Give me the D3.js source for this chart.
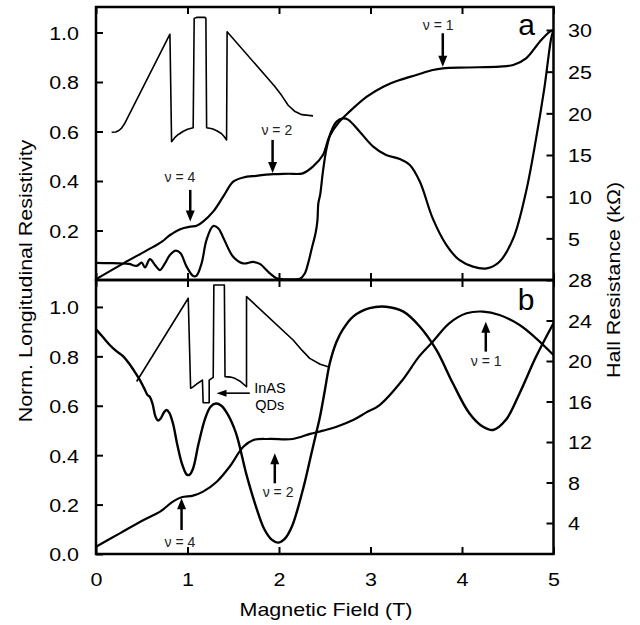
<!DOCTYPE html>
<html>
<head>
<meta charset="utf-8">
<script src="https://cdn.jsdelivr.net/npm/d3@7"></script>
<style>
body{margin:0;background:#fff;}
svg{display:block;}
</style>
</head>
<body>
<svg id="chart" width="640" height="625"></svg>
<script>
// ticks
var fieldTicks=[0,1,2,3,4,5];
var rhoTicksA=[0.2,0.4,0.6,0.8,1.0];
var rhoTicksB=[0.0,0.2,0.4,0.6,0.8,1.0];
var hallTicksA=[5,10,15,20,25,30];
var hallTicksB=[4,8,12,16,20,24,28];

// panel a : [B (T), normalized rho_xx]
var rhoA=[[0,0.069],[0.15,0.068],[0.26,0.067],[0.36,0.065],[0.444,0.057],[0.499,0.070],[0.535,0.051],[0.59,0.084],
  [0.644,0.061],[0.699,0.040],[0.753,0.067],[0.808,0.101],[0.873,0.119],[0.924,0.108],[0.99,0.054],[1.063,0.016],
  [1.099,0.018],[1.154,0.067],[1.208,0.162],[1.281,0.218],[1.336,0.209],[1.39,0.172],[1.499,0.094],[1.608,0.067],
  [1.717,0.073],[1.79,0.065],[1.90,0.027],[1.973,0.007],[2.05,0.003],[2.15,0.003],[2.23,0.005],[2.28,0.025],
  [2.32,0.07],[2.36,0.13],[2.40,0.19],[2.42,0.24],[2.43,0.31],[2.45,0.345],[2.48,0.438],[2.52,0.532],[2.57,0.60],
  [2.63,0.64],[2.70,0.653],[2.755,0.648],[2.88,0.60],[3.03,0.539],[3.17,0.505],[3.32,0.489],[3.43,0.465],
  [3.54,0.397],[3.68,0.249],[3.83,0.141],[3.97,0.081],[4.12,0.054],[4.27,0.047],[4.41,0.074],[4.56,0.168],
  [4.70,0.357],[4.81,0.572],[4.90,0.775],[4.975,0.977],[5.0,1.01]];
// panel a : [B (T), Hall resistance (kOhm)]
var hallA=[[0,0.1],[0.30,2.0],[0.63,4.0],[0.72,4.6],[0.81,5.4],[0.92,6.1],[1.03,6.4],[1.10,6.5],[1.17,7.0],
  [1.28,8.2],[1.39,10.0],[1.50,11.8],[1.61,12.3],[1.75,12.5],[1.94,12.7],[2.10,12.75],[2.26,12.8],[2.37,13.6],
  [2.48,15.0],[2.55,17.2],[2.66,19.0],[2.77,20.2],[2.96,22.0],[3.14,23.2],[3.32,24.0],[3.50,24.6],[3.68,25.2],
  [3.79,25.4],[4.05,25.5],[4.41,25.6],[4.56,25.8],[4.70,26.6],[4.85,28.6],[4.96,29.8],[5.0,30.0]];
// panel a inset (band profile), drawn on rho axis
var bandA=[[0.171,0.597],[0.215,0.598],[0.25,0.604],[0.28,0.614],[0.31,0.630],[0.808,0.993],[0.826,0.559],
  [0.86,0.575],[0.90,0.588],[0.95,0.600],[1.00,0.609],[1.062,0.615],[1.073,1.057],[1.099,1.061],[1.19,1.061],
  [1.201,1.057],[1.209,0.615],[1.27,0.611],[1.32,0.603],[1.37,0.592],[1.40,0.580],[1.427,0.566],[1.433,1.003],
  [1.95,0.784],[2.03,0.745],[2.10,0.706],[2.17,0.682],[2.25,0.668],[2.372,0.663]];

// panel b
var rhoB=[[0.00,0.910],[0.07,0.880],[0.15,0.846],[0.22,0.822],[0.30,0.799],[0.36,0.772],[0.41,0.745],[0.48,0.704],
  [0.535,0.664],[0.56,0.645],[0.59,0.635],[0.62,0.605],[0.65,0.556],[0.68,0.540],[0.71,0.550],[0.74,0.572],
  [0.77,0.583],[0.80,0.572],[0.84,0.530],[0.89,0.440],[0.94,0.365],[0.99,0.322],[1.02,0.320],[1.06,0.345],
  [1.12,0.445],[1.19,0.545],[1.25,0.595],[1.31,0.609],[1.37,0.600],[1.44,0.565],[1.53,0.489],[1.645,0.32],
  [1.75,0.19],[1.84,0.10],[1.92,0.058],[1.99,0.046],[2.06,0.060],[2.14,0.11],[2.26,0.259],[2.35,0.40],
  [2.41,0.495],[2.445,0.55],[2.50,0.66],[2.555,0.772],[2.63,0.86],[2.70,0.91],[2.81,0.961],[2.99,0.995],
  [3.17,1.001],[3.36,0.981],[3.54,0.920],[3.72,0.826],[3.90,0.691],[4.08,0.570],[4.23,0.515],[4.34,0.502],
  [4.48,0.543],[4.63,0.651],[4.81,0.799],[5.00,0.934]];
var hallB=[[0.0,1.66],[0.26,2.98],[0.52,4.30],[0.70,5.12],[0.84,6.11],[0.935,6.54],[1.06,6.70],[1.17,7.10],
  [1.32,8.08],[1.46,9.56],[1.61,11.53],[1.72,12.20],[1.90,12.30],[2.15,12.30],[2.34,12.80],[2.48,13.12],
  [2.63,13.51],[2.81,14.17],[2.95,14.90],[3.10,15.65],[3.35,18.12],[3.53,20.43],[3.68,21.9],[3.86,23.72],
  [4.05,24.71],[4.23,24.88],[4.41,24.54],[4.63,23.56],[4.81,22.24],[5.0,20.59]];
var bandB=[[0.444,0.698],[1.008,1.035],[1.034,0.671],[1.06,0.676],[1.10,0.688],[1.163,0.704],[1.171,0.612],
  [1.237,0.612],[1.237,0.704],[1.281,0.715],[1.288,1.089],[1.403,1.089],[1.41,0.718],[1.47,0.716],[1.517,0.711],
  [1.58,0.698],[1.645,0.677],[1.645,1.042],[2.154,0.866],[2.25,0.825],[2.336,0.792],[2.45,0.768],[2.555,0.756]];

// filling-factor arrows: field, arrow tail, arrow tip, label field, label baseline (rho units)
var arrowsA=[{b:1.03,from:0.364,to:0.236,text:"ν = 4",lb:0.917,lv:0.396},
  {b:1.93,from:0.566,to:0.432,text:"ν = 2",lb:1.976,lv:0.586},
  {b:3.79,from:0.997,to:0.862,text:"ν = 1",lb:3.74,lv:1.01}];
var arrowsB=[{b:0.935,from:0.097,to:0.226,text:"ν = 4",lb:0.917,lv:0.028},
  {b:1.954,from:0.286,to:0.408,text:"ν = 2",lb:1.99,lv:0.231},
  {b:4.26,from:0.819,to:0.94,text:"ν = 1",lb:4.265,lv:0.761}];

var pLeft=96,pRight=553.5,pTop=7,pMid=280,pBottom=554;
var font='"Liberation Sans", Arial, sans-serif';
var stretch=1.13;

var svg=d3.select("#chart");
var x=d3.scaleLinear().domain([0,5]).range([pLeft,pRight]);
var yA=d3.scaleLinear().domain([0,1.103]).range([pMid,pTop]);
var yAR=d3.scaleLinear().domain([0,32.76]).range([pMid,pTop]);
var yB=d3.scaleLinear().domain([0,1.109]).range([pBottom,pMid]);
var yBR=d3.scaleLinear().domain([0.94,28]).range([pBottom,pMid]);

function styleAxis(g){
	g.attr("font-family",font).attr("font-size",19);
	g.select(".domain").remove();
	g.selectAll(".tick line").attr("stroke","#000").attr("stroke-width",2);
}

// x ticks on all horizontal edges
svg.append("g").attr("transform","translate(0,"+pTop+")")
	.call(d3.axisTop(x).tickValues(fieldTicks).tickSize(-7).tickFormat("")).call(styleAxis);
svg.append("g").attr("transform","translate(0,"+pMid+")")
	.call(d3.axisBottom(x).tickValues(fieldTicks).tickSize(-7).tickFormat("")).call(styleAxis);
svg.append("g").attr("transform","translate(0,"+pMid+")")
	.call(d3.axisTop(x).tickValues(fieldTicks).tickSize(-7).tickFormat("")).call(styleAxis);
var xg=svg.append("g").attr("transform","translate(0,"+pBottom+")")
	.call(d3.axisBottom(x).tickValues(fieldTicks).tickSize(-7).tickFormat(d3.format("d"))).call(styleAxis);
xg.selectAll(".tick text").attr("y",null).attr("dy",null)
	.attr("transform","translate(0,32) scale("+stretch+",1)");

function leftAxis(scale,ticks){
	var g=svg.append("g").attr("transform","translate("+pLeft+",0)")
		.call(d3.axisLeft(scale).tickValues(ticks).tickSize(-7).tickFormat(d3.format(".1f"))).call(styleAxis);
	g.selectAll(".tick text").attr("x",null).attr("dy","0.36em")
		.attr("transform","translate(-17,0) scale("+stretch+",1)");
}
function rightAxis(scale,ticks){
	var g=svg.append("g").attr("transform","translate("+pRight+",0)")
		.call(d3.axisRight(scale).tickValues(ticks).tickSize(-7).tickFormat(d3.format("d"))).call(styleAxis);
	g.selectAll(".tick text").attr("x",null).attr("dy","0.36em")
		.attr("transform","translate(14.5,0) scale("+stretch+",1)");
}
leftAxis(yA,rhoTicksA);
leftAxis(yB,rhoTicksB);
rightAxis(yAR,hallTicksA);
rightAxis(yBR,hallTicksB);

// frames
svg.append("rect").attr("x",pLeft).attr("y",pTop).attr("width",pRight-pLeft).attr("height",pMid-pTop)
	.attr("fill","none").attr("stroke","#000").attr("stroke-width",2.5);
svg.append("rect").attr("x",pLeft).attr("y",pMid).attr("width",pRight-pLeft).attr("height",pBottom-pMid)
	.attr("fill","none").attr("stroke","#000").attr("stroke-width",2.5);

svg.append("clipPath").attr("id","clipA").append("rect")
	.attr("x",pLeft).attr("y",pTop).attr("width",pRight-pLeft).attr("height",pMid-pTop);
svg.append("clipPath").attr("id","clipB").append("rect")
	.attr("x",pLeft).attr("y",pMid).attr("width",pRight-pLeft).attr("height",pBottom-pMid);

function curve(data,ys,clip,w,smooth){
	var line=d3.line().x(function(d){return x(d[0]);}).y(function(d){return ys(d[1]);})
		.curve(smooth?d3.curveCatmullRom.alpha(0.5):d3.curveLinear);
	svg.append("path").datum(data).attr("d",line).attr("fill","none")
		.attr("stroke","#000").attr("stroke-width",w).attr("stroke-linejoin","round")
		.attr("clip-path","url(#"+clip+")");
}
curve(bandA,yA,"clipA",1.6,false);
curve(rhoA,yA,"clipA",2.2,true);
curve(hallA,yAR,"clipA",2.2,true);
curve(bandB,yB,"clipB",1.6,false);
curve(rhoB,yB,"clipB",2.4,true);
curve(hallB,yBR,"clipB",2.2,true);

function arrows(list,ys){
	list.forEach(function(a){
		var ax=x(a.b),y0=ys(a.from),y1=ys(a.to),s=y1>y0?1:-1;
		svg.append("line").attr("x1",ax).attr("x2",ax).attr("y1",y0).attr("y2",y1-s*9)
			.attr("stroke","#000").attr("stroke-width",2.5);
		svg.append("path").attr("d","M"+(ax-4.5)+","+(y1-s*11)+"L"+(ax+4.5)+","+(y1-s*11)+"L"+ax+","+y1+"Z")
			.attr("fill","#000");
		svg.append("text").attr("x",x(a.lb)).attr("y",ys(a.lv)).attr("text-anchor","middle")
			.attr("font-family",font).attr("font-size",14).attr("fill","#222").text(a.text);
	});
}
arrows(arrowsA,yA);
arrows(arrowsB,yB);

// InAs QD pointer
svg.append("line").attr("x1",x(1.681)).attr("x2",x(1.36)).attr("y1",yB(0.651)).attr("y2",yB(0.651))
	.attr("stroke","#000").attr("stroke-width",1.6);
svg.append("path").attr("d","M"+x(1.317)+","+yB(0.651)+"L"+(x(1.317)+10)+","+(yB(0.651)-3.5)+"L"+(x(1.317)+10)+","+(yB(0.651)+3.5)+"Z")
	.attr("fill","#000");
svg.append("text").attr("x",x(1.90)).attr("y",yB(0.651)).attr("text-anchor","middle")
	.attr("font-family",font).attr("font-size",14.5).text("InAS");
svg.append("text").attr("x",x(1.90)).attr("y",yB(0.583)).attr("text-anchor","middle")
	.attr("font-family",font).attr("font-size",14.5).text("QDs");

// panel letters
svg.append("text").attr("x",x(4.705)).attr("y",yA(0.99)).attr("text-anchor","middle")
	.attr("font-family",font).attr("font-size",30).text("a");
svg.append("text").attr("x",x(4.70)).attr("y",yB(0.988)).attr("text-anchor","middle")
	.attr("font-family",font).attr("font-size",30).text("b");

// axis titles
svg.append("text").attr("transform","translate(326,616) scale("+stretch+",1)").attr("text-anchor","middle")
	.attr("font-family",font).attr("font-size",19).text("Magnetic Field (T)");
svg.append("text").attr("transform","translate(32,281) rotate(-90) scale("+stretch+",1)").attr("text-anchor","middle")
	.attr("font-family",font).attr("font-size",19).text("Norm. Longitudinal Resistivity");
svg.append("text").attr("transform","translate(620,280) rotate(-90) scale("+stretch+",1)").attr("text-anchor","middle")
	.attr("font-family",font).attr("font-size",19).text("Hall Resistance (kΩ)");
</script>
</body>
</html>
